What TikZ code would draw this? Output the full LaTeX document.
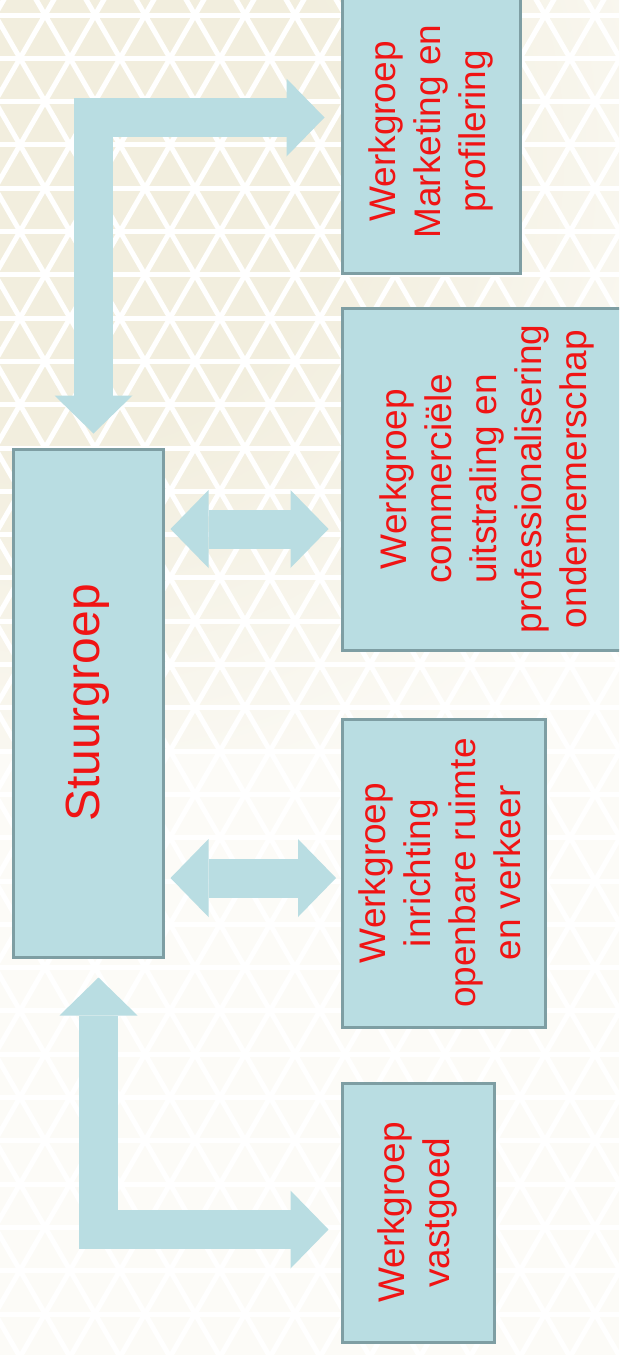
\documentclass[tikz,border=0pt]{standalone}
\usepackage{fontspec}
\setmainfont{Liberation Sans}
\usepackage{graphicx}
\usetikzlibrary{arrows.meta, positioning, calc}
\definecolor{boxblue}{RGB}{185, 221, 226}
\definecolor{boxedge}{RGB}{126, 158, 163}
\definecolor{labelred}{RGB}{240, 20, 20}
\definecolor{bgwhite}{RGB}{252, 251, 247}
\definecolor{bgbeige}{RGB}{242, 238, 222}
\pgfdeclareradialshading{cornerglow}{\pgfpointorigin}{color(0bp)=(bgbeige); color(12bp)=(bgbeige); color(30bp)=(bgwhite); color(50bp)=(bgwhite)}
\newcommand{\vlabel}[1]{\rotatebox{90}{\begin{tabular}{@{}c@{}}#1\end{tabular}}}

\begin{document}
\begin{tikzpicture}[
    x=1pt, y=-1pt,
    group/.style={draw=boxedge, line width=3pt, fill=boxblue, inner sep=0pt, text=labelred, font=\fontsize{37}{45}\selectfont},
    link/.style={boxblue, line width=39pt, line join=miter, >={Triangle[width=78pt, length=38pt, line width=0pt]}, <->},
    lattice/.style={white, line width=5pt}
]
    \useasboundingbox (0,0) rectangle (619,1355);
    \clip (0,0) rectangle (619,1355);

    % Background with triangle pattern
    \fill[bgwhite] (0,0) rectangle (619,1355);
    \shade[shading=cornerglow] (-540,-450) rectangle (660,750);
    \foreach \k in {0,...,32}
        \draw[lattice] (-20, 15+43.3*\k) -- (640, 15+43.3*\k);
    \foreach \m in {-20,...,30} {
        \draw[lattice] (\m*50-5, 15) ++(-924,-1600) -- ++(1848,3200);
        \draw[lattice] (\m*50-5, 15) ++(924,-1600) -- ++(-1848,3200);
    }

    % Nodes - steering group
    \node[group, minimum width=150pt, minimum height=508pt, font=\fontsize{48}{56}\selectfont] (stuur) at (88,703) {\rotatebox{90}{Stuurgroep}};

    % Nodes - working groups
    \node[group, minimum width=178pt, minimum height=283pt] (mark) at (431,131.5) {\vlabel{Werkgroep\\Marketing en\\profilering}};
    \node[group, minimum width=290pt, minimum height=342pt] (comm) at (487,479) {\vlabel{Werkgroep\\commerciële\\uitstraling en\\professionalisering\\ondernemerschap}};
    \node[group, minimum width=203pt, minimum height=308pt] (inr) at (443.5,873) {\vlabel{Werkgroep\\inrichting\\openbare ruimte\\en verkeer}};
    \node[group, minimum width=152pt, minimum height=259pt] (vast) at (418,1212.5) {\vlabel{Werkgroep\\vastgoed}};

    % Arrows
    \path ([yshift=-50pt]comm.west) coordinate (c1);
    \path ([yshift=-5pt]inr.west) coordinate (c2);
    \draw[link, shorten <=14pt, shorten >=16pt] ([xshift=5.5pt]stuur.north) |- ([yshift=14pt]mark.west);
    \draw[link, shorten <=6pt, shorten >=12pt] (stuur.east |- c1) -- (c1);
    \draw[link, shorten <=6pt, shorten >=4.5pt] (stuur.east |- c2) -- (c2);
    \draw[link, shorten <=19pt, shorten >=12pt] ([xshift=10.5pt]stuur.south) |- ([yshift=-17pt]vast.west);
\end{tikzpicture}
\end{document}
